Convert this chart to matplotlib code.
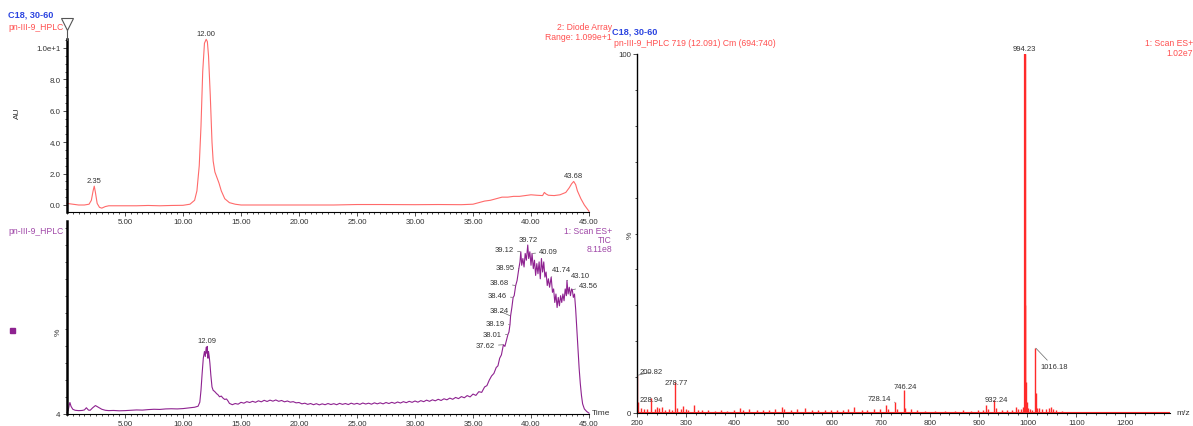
import numpy as np
import matplotlib
matplotlib.use("Agg")
import matplotlib.pyplot as plt
from matplotlib.ticker import MultipleLocator, FixedLocator
from matplotlib.lines import Line2D
from matplotlib.patches import Rectangle

plt.rcParams['font.family'] = ['Liberation Sans', 'DejaVu Sans']

# ---------------- data ----------------
# UV (Diode Array) trace: time (min), absorbance (AU)
uv_time = [0.0, 0.5, 1.0, 1.5, 1.9, 2.1, 2.25, 2.35, 2.45, 2.6, 2.8, 3.0, 3.3, 3.6, 4.0,
           5.0, 6.0, 7.0, 8.0, 9.0, 10.0, 10.6, 11.0, 11.2, 11.4, 11.55, 11.7, 11.85,
           12.0, 12.1, 12.2, 12.35, 12.5, 12.6, 12.75, 12.9, 13.1, 13.3, 13.6, 14.0,
           14.5, 15.0, 17.0, 20.0, 23.0, 25.0, 27.0, 30.0, 32.0, 34.0, 35.0, 35.5,
           36.0, 36.5, 37.0, 37.5, 38.0, 38.5, 39.0, 39.5, 40.0, 40.5, 41.0, 41.15,
           41.3, 41.5, 42.0, 42.5, 43.0, 43.3, 43.5, 43.68, 43.85, 44.0, 44.3, 44.6, 45.0]
uv_au = [0.10, 0.05, 0.0, 0.0, 0.05, 0.3, 0.9, 1.2, 0.8, 0.1, -0.15, -0.2, -0.1, -0.05,
         -0.05, -0.05, -0.05, -0.03, -0.05, -0.03, -0.02, 0.05, 0.3, 0.9, 2.5, 5.0, 8.5,
         10.3, 10.55, 10.4, 9.5, 7.0, 4.0, 2.8, 2.1, 1.8, 1.4, 0.9, 0.4, 0.15, 0.05, 0.0,
         0.0, 0.0, 0.0, 0.03, 0.03, 0.02, 0.03, 0.02, 0.05, 0.15, 0.25, 0.3, 0.4, 0.5,
         0.5, 0.55, 0.55, 0.6, 0.65, 0.62, 0.6, 0.8, 0.7, 0.62, 0.6, 0.65, 0.8, 1.1,
         1.35, 1.5, 1.3, 0.9, 0.4, 0.0, -0.4]
uv_labels = [2.35, 12.00, 43.68]

# TIC trace: time (min), relative intensity (%)
tic_time = [0.0, 0.1, 0.2, 0.25, 0.35, 0.5, 0.7, 1.0, 1.3, 1.5, 1.67, 1.85, 2.0, 2.2, 2.45,
            2.7, 3.0, 3.3, 3.6, 4.0, 4.5, 5.0, 5.5, 6.0, 6.5, 7.0, 7.5, 8.0, 8.5, 9.0, 9.5,
            10.0, 10.5, 11.0, 11.3, 11.45, 11.55, 11.65, 11.75, 11.85, 11.92, 12.0, 12.05,
            12.09, 12.15, 12.2, 12.26, 12.32, 12.4, 12.5, 12.6, 12.7, 12.8, 12.9, 13.0,
            13.15, 13.3, 13.45, 13.6, 13.75, 13.9, 14.0, 14.25, 14.5, 14.75, 15.0, 15.25,
            15.5, 15.75, 16.0, 16.25, 16.5, 16.75, 17.0, 17.25, 17.5, 17.75, 18.0, 18.25,
            18.5, 18.75, 19.0, 19.25, 19.5, 19.75, 20.0, 20.25, 20.5, 20.75, 21.0, 21.25,
            21.5, 21.75, 22.0, 22.25, 22.5, 22.75, 23.0, 23.25, 23.5, 23.75, 24.0, 24.25,
            24.5, 24.75, 25.0, 25.25, 25.5, 25.75, 26.0, 26.25, 26.5, 26.75, 27.0, 27.25,
            27.5, 27.75, 28.0, 28.25, 28.5, 28.75, 29.0, 29.25, 29.5, 29.75, 30.0, 30.25,
            30.5, 30.75, 31.0, 31.25, 31.5, 31.75, 32.0, 32.25, 32.5, 32.75, 33.0, 33.25,
            33.5, 33.75, 34.0, 34.25, 34.5, 34.75, 35.0, 35.25, 35.5, 35.75, 36.0, 36.2,
            36.4, 36.6, 36.8, 37.0, 37.15, 37.3, 37.45, 37.62, 37.75, 37.9, 38.01, 38.1,
            38.19, 38.24, 38.35, 38.46, 38.55, 38.68, 38.8, 38.95, 39.05, 39.12, 39.2,
            39.3, 39.4, 39.5, 39.6, 39.72, 39.8, 39.9, 40.0, 40.09, 40.2, 40.3, 40.4, 40.5,
            40.6, 40.7, 40.8, 40.9, 41.0, 41.1, 41.2, 41.3, 41.4, 41.5, 41.6, 41.74, 41.85,
            41.95, 42.05, 42.15, 42.25, 42.35, 42.45, 42.55, 42.65, 42.75, 42.85, 42.95,
            43.05, 43.10, 43.2, 43.3, 43.4, 43.5, 43.56, 43.65, 43.75, 43.85, 43.95, 44.05,
            44.15, 44.25, 44.35, 44.45, 44.6, 44.8, 45.0]
tic_pct = [1.0, 2.0, 5.5, 6.8, 4.5, 2.8, 2.2, 2.0, 2.1, 2.4, 3.7, 2.3, 2.2, 3.6, 5.0,
           4.0, 2.8, 2.2, 2.0, 2.1, 1.9, 2.0, 2.2, 2.4, 2.3, 2.6, 2.8, 2.7, 3.0, 3.1, 3.0,
           3.2, 3.6, 4.0, 4.6, 7.0, 14.0, 24.0, 33.0, 37.0, 34.0, 39.5, 36.0,
           40.0, 33.0, 37.0, 34.0, 30.0, 23.0, 16.0, 14.0, 13.5, 12.8, 12.0, 11.5,
           10.2, 10.6, 9.4, 8.6, 8.9, 7.5, 6.3, 5.5, 6.2, 5.8, 6.9, 6.4,
           7.3, 6.8, 7.5, 6.9, 7.8, 7.2, 8.1, 7.4, 8.2, 7.6, 8.3, 7.5,
           8.0, 7.2, 7.7, 7.0, 7.3, 6.6, 6.8, 6.0, 6.4, 5.7, 6.2, 5.5,
           6.1, 5.4, 6.0, 5.5, 6.2, 5.6, 6.1, 5.5, 6.3, 5.7, 6.2, 5.6,
           6.4, 5.8, 6.3, 5.7, 6.5, 5.9, 6.4, 5.8, 6.6, 6.0, 6.6, 6.0,
           6.8, 6.2, 6.9, 6.3, 7.1, 6.5, 7.3, 6.7, 7.5, 6.9, 7.7, 7.0,
           7.9, 7.3, 8.2, 7.5, 8.4, 7.8, 8.7, 8.0, 9.0, 8.4, 9.4, 8.7,
           9.8, 9.1, 10.3, 9.6, 10.9, 10.1, 11.8, 11.0, 13.2, 12.8, 16.0, 16.8,
           20.0, 22.5, 24.0, 27.5, 28.5, 33.0, 35.0, 41.0, 40.0, 44.0, 47.0, 48.5,
           53.0, 58.0, 63.0, 69.0, 70.0, 76.0, 79.0, 86.0, 90.0, 96.0, 88.0,
           92.0, 87.0, 95.0, 91.0, 100.0, 92.0, 96.0, 88.0, 95.0, 86.0, 91.0, 82.0, 89.0,
           83.0, 90.0, 80.0, 92.0, 84.0, 90.0, 81.0, 84.0, 76.0, 80.0, 75.0, 81.0, 72.0,
           74.0, 66.0, 71.0, 63.0, 69.0, 64.0, 70.0, 66.0, 71.0, 67.0, 74.0,
           70.0, 79.0, 71.0, 75.0, 70.0, 74.0, 73.5, 69.0, 71.0, 62.0, 50.0, 38.0,
           27.0, 18.0, 11.0, 6.0, 3.0, 1.5, 0.5]

# Mass spectrum: m/z, relative intensity (%)
ms_mz = [200.82, 203, 208, 214, 220, 228.94, 236, 241, 246, 252, 258, 265, 272, 278.77,
         282, 290, 294, 300, 305, 316, 324, 334, 346, 360, 372, 385, 399, 412, 418, 430,
         446, 458, 470, 482, 497, 501, 515, 527, 545, 558, 570, 585, 598, 610, 622, 632,
         645, 660, 672, 686, 697, 710, 714, 728.14, 732, 746.24, 750, 762, 774, 790, 810,
         830, 852, 868, 885, 898, 908, 914, 920, 932.24, 936, 948, 958, 968, 976, 980,
         987, 990, 994.23, 995.3, 996.3, 998, 1002, 1006, 1010, 1016.18, 1017.2, 1019,
         1024, 1030, 1038, 1045, 1048, 1052, 1058, 1070, 1085, 1100, 1130, 1160, 1200,
         1240, 1280]
ms_int = [10.5, 3.0, 1.5, 1.2, 1.0, 4.2, 1.0, 1.8, 1.5, 1.8, 0.8, 1.0, 0.9, 8.6,
          1.5, 1.2, 2.0, 1.0, 0.9, 2.3, 0.8, 0.7, 0.8, 0.6, 0.7, 0.6, 0.7, 1.4, 0.8, 1.2,
          0.7, 0.8, 0.7, 1.2, 1.6, 1.0, 0.8, 1.0, 1.4, 0.8, 0.7, 0.8, 0.8, 0.7, 0.8, 1.0,
          1.8, 0.8, 0.9, 1.0, 1.0, 2.2, 1.0, 3.0, 1.0, 6.5, 1.5, 1.0, 0.7, 0.6, 0.6,
          0.5, 0.6, 0.7, 0.6, 0.8, 0.9, 2.3, 1.0, 3.6, 1.5, 0.8, 0.9, 0.8, 1.8, 1.2,
          1.0, 1.8, 100.0, 30.0, 8.5, 3.0, 1.5, 1.2, 0.8, 18.2, 5.5, 1.4,
          1.3, 1.1, 1.0, 1.5, 1.8, 1.2, 0.7, 0.5, 0.4, 0.4, 0.3, 0.3, 0.3,
          0.3, 0.3]

# ---------------- layout helpers ----------------
W, H = 1193, 427
fig = plt.figure(figsize=(W / 100, H / 100), dpi=100)


def rect(l, t, r, b):
    return [l / W, 1 - b / H, (r - l) / W, (b - t) / H]


def ftext(x, y, s, **kw):
    kw.setdefault('fontsize', 6.2)
    kw.setdefault('va', 'center')
    fig.text(x / W, 1 - y / H, s, **kw)


BLUE = '#2b44e0'
RED_T = '#ff5050'
PURP_T = '#a048a8'
GRAY = '#333333'
UV_C = '#ff6a6a'
TIC_C = '#8e2290'
MS_C = '#ff2a2a'
FS = 5.5


def style_axes(ax, left_lw):
    for s in ('top', 'right'):
        ax.spines[s].set_visible(False)
    ax.spines['left'].set_linewidth(left_lw)
    ax.spines['bottom'].set_linewidth(0.8)
    ax.tick_params(which='both', direction='out', labelsize=5.7, colors=GRAY,
                   width=0.6, pad=1.5)
    ax.tick_params(which='major', length=3)
    ax.tick_params(which='minor', length=1.6)
    ax.patch.set_alpha(0)


def lab(ax, x, y, s, txy=None, ha='center', leader=False):
    if txy is None:
        ax.annotate(s, xy=(x, y), xytext=(0, 1.5), textcoords='offset points',
                    ha='center', va='bottom', fontsize=FS, color=GRAY,
                    annotation_clip=False)
    else:
        ap = dict(arrowstyle='-', color='#666666', lw=0.5, shrinkA=0.5, shrinkB=0.5) if leader else None
        ax.annotate(s, xy=(x, y), xycoords='data', xytext=(txy[0], H - txy[1]),
                    textcoords='figure pixels', ha=ha, va='center', fontsize=FS,
                    color=GRAY, arrowprops=ap, annotation_clip=False)


# ---------------- UV panel ----------------
ax1 = fig.add_axes(rect(67, 40, 589, 213))
ax1.plot(uv_time, uv_au, color=UV_C, lw=0.8, clip_on=False)
ax1.set_xlim(0, 45)
ax1.set_ylim(-0.446, 10.57)
style_axes(ax1, 1.8)
ax1.xaxis.set_major_locator(FixedLocator([5, 10, 15, 20, 25, 30, 35, 40, 45]))
ax1.set_xticklabels(['%.2f' % v for v in [5, 10, 15, 20, 25, 30, 35, 40, 45]])
ax1.xaxis.set_minor_locator(MultipleLocator(0.5))
ax1.yaxis.set_major_locator(FixedLocator([0, 2, 4, 6, 8, 10]))
ax1.set_yticklabels(['0.0', '2.0', '4.0', '6.0', '8.0', '1.0e+1'])
ax1.yaxis.set_minor_locator(MultipleLocator(0.5))
for t in uv_labels:
    lab(ax1, t, np.interp(t, uv_time, uv_au), '%.2f' % t)

fig.add_artist(Line2D([67 / W, 67 / W], [1 - 30 / H, 1 - 41 / H], color='#555555',
                      lw=0.8, transform=fig.transFigure))
fig.add_artist(Line2D([67 / W], [1 - 25 / H], marker='v', markersize=8.5, mfc='white',
                      mec='#555555', mew=0.8, transform=fig.transFigure))

ftext(8, 15, 'C18, 30-60', color=BLUE, fontweight='bold', fontsize=6.6)
ftext(8, 27, 'pn-III-9_HPLC', color=RED_T)
ftext(612, 27, '2: Diode Array', color=RED_T, ha='right')
ftext(612, 38, 'Range: 1.099e+1', color=RED_T, ha='right')
ftext(17, 113, 'AU', color=GRAY, rotation=90, ha='center', fontsize=6)

# ---------------- TIC panel ----------------
ax2 = fig.add_axes(rect(67, 222, 589, 415))
ax2.plot(tic_time, tic_pct, color=TIC_C, lw=0.8, clip_on=False)
ax2.set_xlim(0, 45)
ax2.set_ylim(0, 114.2)
style_axes(ax2, 1.8)
ax2.xaxis.set_major_locator(FixedLocator([5, 10, 15, 20, 25, 30, 35, 40, 45]))
ax2.set_xticklabels(['%.2f' % v for v in [5, 10, 15, 20, 25, 30, 35, 40, 45]])
ax2.xaxis.set_minor_locator(MultipleLocator(0.5))
ax2.yaxis.set_major_locator(FixedLocator([0]))
ax2.set_yticklabels(['4'])
ax2.yaxis.set_minor_locator(MultipleLocator(10))

tic_lab_simple = [12.09, 39.72]
for t in tic_lab_simple:
    lab(ax2, t, np.interp(t, tic_time, tic_pct), '%.2f' % t)

tic_left = {39.12: (514, 251), 38.95: (515, 269), 38.68: (509, 284), 38.46: (507, 297),
            38.24: (509, 312), 38.19: (505, 325), 38.01: (502, 336), 37.62: (495, 347)}
tic_right = {40.09: (539, 253), 41.74: (552, 271), 43.10: (571, 277), 43.56: (579, 287)}
for t, p in tic_left.items():
    lab(ax2, t, np.interp(t, tic_time, tic_pct), '%.2f' % t, txy=p, ha='right', leader=True)
for t, p in tic_right.items():
    lab(ax2, t, np.interp(t, tic_time, tic_pct), '%.2f' % t, txy=p, ha='left', leader=True)

ftext(8, 232, 'pn-III-9_HPLC', color=PURP_T)
ftext(612, 232, '1: Scan ES+', color=PURP_T, ha='right')
ftext(612, 241, 'TIC', color=PURP_T, ha='right')
ftext(612, 250, '8.11e8', color=PURP_T, ha='right')
fig.add_artist(Rectangle((10 / W, 1 - 333.5 / H), 5 / W, 5 / H, color=TIC_C,
                         transform=fig.transFigure))
ftext(58, 332, '%', color=GRAY, rotation=90, ha='center', fontsize=6)
ftext(592, 414, 'Time', color=GRAY, ha='left', fontsize=6)

# ---------------- MS panel ----------------
ax3 = fig.add_axes(rect(637, 55, 1170, 414))
ax3.vlines(ms_mz, 0, ms_int, color=MS_C, lw=1.0)
ax3.vlines([994.23], 0, [100.0], color=MS_C, lw=1.6)
ax3.axhline(0.15, color=MS_C, lw=0.8)
ax3.set_xlim(200, 1292)
ax3.set_ylim(0, 100)
style_axes(ax3, 1.0)
ax3.xaxis.set_major_locator(MultipleLocator(100))
ax3.xaxis.set_major_formatter(plt.FuncFormatter(lambda v, p: '%d' % v if v <= 1200 else ''))
ax3.xaxis.set_minor_locator(MultipleLocator(20))
ax3.yaxis.set_major_locator(FixedLocator([0, 100]))
ax3.set_yticklabels(['0', '100'])
ax3.yaxis.set_minor_locator(MultipleLocator(10))

lab(ax3, 994.23, 100.0, '994.23')
lab(ax3, 278.77, 8.6, '278.77', txy=(676, 384))
lab(ax3, 746.24, 6.5, '746.24', txy=(905, 388))
lab(ax3, 932.24, 3.6, '932.24', txy=(996, 401))
lab(ax3, 228.94, 4.2, '228.94', txy=(640, 401), ha='left')
lab(ax3, 200.82, 10.5, '200.82', txy=(640, 373), ha='left', leader=True)
lab(ax3, 728.14, 3.0, '728.14', txy=(891, 400), ha='right', leader=True)
lab(ax3, 1016.18, 18.2, '1016.18', txy=(1040, 368), ha='left', leader=True)

ftext(612, 32, 'C18, 30-60', color=BLUE, fontweight='bold', fontsize=6.6)
ftext(614, 43, 'pn-III-9_HPLC 719 (12.091) Cm (694:740)', color=RED_T)
ftext(1193, 43, '1: Scan ES+', color=RED_T, ha='right')
ftext(1193, 53, '1.02e7', color=RED_T, ha='right')
ftext(630, 235, '%', color=GRAY, rotation=90, ha='center', fontsize=6)
ftext(1176, 414, 'm/z', color=GRAY, ha='left', fontsize=6)

fig.savefig('out.png', dpi=100)
